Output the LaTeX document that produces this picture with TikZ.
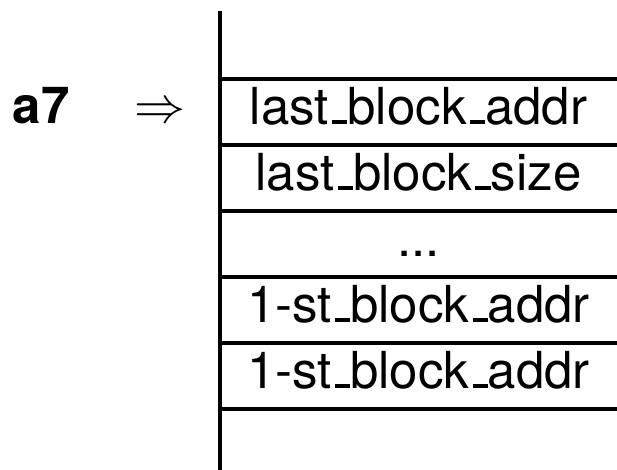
\RequirePackage{fix-cm}
\documentclass[tikz,border=0pt]{standalone}
\usepackage{fontspec}
\setmainfont{TeX Gyre Heros}
\usepackage{tikz}
\usetikzlibrary{positioning}
\newcommand{\uscore}{\kern.06em\vrule height .08em depth 0pt width .3em}
\tikzset{
  cell/.style={
    minimum width=397pt,
    minimum height=66pt,
    inner sep=0pt,
    outer sep=0pt,
    text height=38pt,
    text depth=13pt
  },
  rule/.style={
    line width=4pt
  },
  tag/.style={
    anchor=base,
    inner sep=0pt
  }
}

\begin{document}
\begin{tikzpicture}[x=1pt,y=1pt,font=\fontsize{51}{61}\selectfont]
  \useasboundingbox (0,0) rectangle (617,470);

  % Stack cells
  \node[cell, anchor=north west] (c1) at (220,391) {last\uscore block\uscore addr};
  \node[cell, below=0pt of c1] (c2) {last\uscore block\uscore size};
  \node[cell, below=0pt of c2] (c3) {...};
  \node[cell, below=0pt of c3] (c4) {1-st\uscore block\uscore addr};
  \node[cell, below=0pt of c4] (c5) {1-st\uscore block\uscore addr};

  % Stack border
  \coordinate (top) at (220,459);
  \coordinate (bot) at (220,0);
  \draw[rule] (top) -- (bot);
  \foreach \c in {c1,c2,c3,c4,c5} {
    \draw[rule] (\c.north west) -- (\c.north east);
  }
  \draw[rule] (c5.south west) -- (c5.south east);

  % Register pointer
  \node[tag] (reg) at (41,346) {\bfseries a7};
  \node[tag] (ptr) at (160,347) {$\Rightarrow$};

\end{tikzpicture}
\end{document}
